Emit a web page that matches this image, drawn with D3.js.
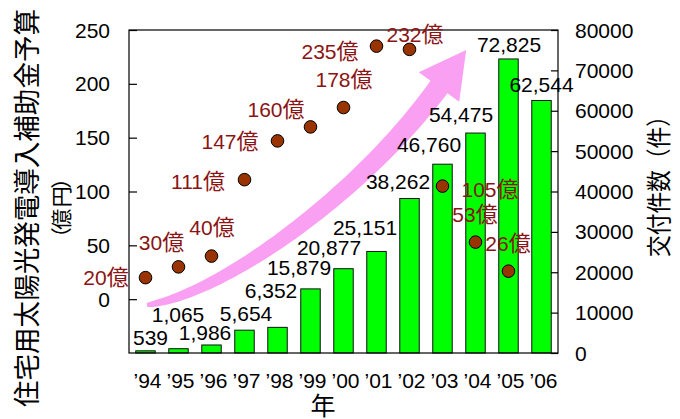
<!DOCTYPE html>
<html>
<head>
<meta charset="utf-8">
<script src="https://cdn.jsdelivr.net/npm/d3@7"></script>
<style>
  body { margin: 0; background: #fff; }
  svg { display: block; }
  text { font-family: "Liberation Sans", "Noto Sans CJK JP", sans-serif; }
  .cjk { font-family: "Noto Sans CJK JP", sans-serif; }
</style>
</head>
<body>
<svg id="chart" width="680" height="419"></svg>
<script>
// Fiscal years (1994–2006)
const years = ["’94", "’95", "’96", "’97", "’98", "’99", "’00", "’01", "’02", "’03", "’04", "’05", "’06"];
// Number of grants issued (件) per year — bars, right axis
const grantCounts = [539, 1065, 1986, 5654, 6352, 15879, 20877, 25151, 38262, 46760, 54475, 72825, 62544];
// Residential PV subsidy budget (億円) per year, '94–'05 — dots, left axis
const budgets = [20, 30, 40, 111, 147, 160, 178, 235, 232, 105, 53, 26];
// Axis tick labels
const leftTicks = [0, 50, 100, 150, 200, 250];
const rightTicks = [0, 10000, 20000, 30000, 40000, 50000, 60000, 70000, 80000];

// Hand-placed nudges [dx, dy] (px) for the value labels, so they avoid each other
const countLabelNudge = [[5, -13], [-0.5, -34], [-6.5, -12], [1.5, -17], [-6.5, -37], [-11.5, -21], [-14.5, -21],
  [-11.5, -24], [-11.5, -17], [-13.5, -20], [-14.5, -19], [0.5, -14], [0, -16]];
const budgetLabelNudge = [[-39.5, 0], [-17, -24], [0.5, -29], [-46.5, 2], [-47.5, 1], [-34.5, -17], [0.5, -28],
  [-46.5, 5], [5.5, -15], [47.5, 3], [-0.5, -28], [-0.5, -28]];

const svg = d3.select("#chart");
const plot = { left: 129, right: 558, top: 30, bottom: 353 };

const x = d3.scaleBand().domain(years).range([plot.left, plot.right])
  .paddingInner(0.41).paddingOuter(0.205);
const yLeft = d3.scaleLinear().domain([-50, 250]).range([plot.bottom, plot.top]);
const yRight = d3.scaleLinear().domain([0, 80000]).range([plot.bottom, plot.top]);
const cx = d => x(d) + x.bandwidth() / 2;

// Growth arrow (decorative): tapered shaft along a cubic curve plus a triangular head
(function drawArrow() {
  const P0 = [147, 305], P1 = [220, 295], P2 = [360, 195], P3 = [439, 87];
  const bez = (t, i) => {
    const m = 1 - t;
    return m * m * m * P0[i] + 3 * m * m * t * P1[i] + 3 * m * t * t * P2[i] + t * t * t * P3[i];
  };
  const der = (t, i) => {
    const m = 1 - t;
    return 3 * m * m * (P1[i] - P0[i]) + 6 * m * t * (P2[i] - P1[i]) + 3 * t * t * (P3[i] - P2[i]);
  };
  const upper = [], lower = [];
  const N = 48;
  for (let k = 0; k <= N; k++) {
    const t = k / N;
    const px = bez(t, 0), py = bez(t, 1);
    let tx = der(t, 0), ty = der(t, 1);
    const len = Math.hypot(tx, ty); tx /= len; ty /= len;
    const nx = -ty, ny = tx;
    const w = (4 + 17 * Math.pow(t, 0.6)) / 2;
    upper.push([px - nx * w, py - ny * w]);
    lower.push([px + nx * w, py + ny * w]);
  }
  let ux = P3[0] - P2[0], uy = P3[1] - P2[1];
  const ul = Math.hypot(ux, uy); ux /= ul; uy /= ul;
  const nx = -uy, ny = ux;
  const head = [
    [P3[0] - nx * 25, P3[1] - ny * 25],
    [P3[0] + ux * 46, P3[1] + uy * 46],
    [P3[0] + nx * 25, P3[1] + ny * 25]
  ];
  const pts = upper.concat(head, lower.reverse());
  svg.append("path")
    .attr("d", "M" + pts.map(p => p[0].toFixed(1) + "," + p[1].toFixed(1)).join("L") + "Z")
    .attr("fill", "#f9a0f2");
})();

// Bars: grant counts
svg.append("g").selectAll("rect").data(grantCounts).join("rect")
  .attr("x", (d, i) => x(years[i]))
  .attr("y", d => yRight(d))
  .attr("width", x.bandwidth())
  .attr("height", d => yRight(0) - yRight(d))
  .attr("fill", "#00ff00")
  .attr("stroke", "#111")
  .attr("stroke-width", 1);

// Frame
svg.append("rect")
  .attr("x", plot.left).attr("y", plot.top)
  .attr("width", plot.right - plot.left).attr("height", plot.bottom - plot.top)
  .attr("fill", "none").attr("stroke", "#000").attr("stroke-width", 1.2);

// Left axis (ticks point inward)
const leftAxis = d3.axisRight(yLeft).tickValues(leftTicks).tickSize(8).tickFormat("");
svg.append("g").attr("transform", `translate(${plot.left},0)`).call(leftAxis)
  .call(g => g.select(".domain").remove())
  .call(g => g.selectAll("line").attr("stroke", "#000").attr("stroke-width", 1.2));
svg.append("g").selectAll("text").data(leftTicks).join("text")
  .attr("x", 110).attr("y", d => yLeft(d) + 7.5)
  .attr("text-anchor", "end").attr("font-size", 21).attr("fill", "#000")
  .text(d => d);

// Right axis (ticks point inward)
const rightAxis = d3.axisLeft(yRight).tickValues(rightTicks).tickSize(7).tickFormat("");
svg.append("g").attr("transform", `translate(${plot.right},0)`).call(rightAxis)
  .call(g => g.select(".domain").remove())
  .call(g => g.selectAll("line").attr("stroke", "#000").attr("stroke-width", 1.2));
svg.append("g").selectAll("text").data(rightTicks).join("text")
  .attr("x", 575).attr("y", d => yRight(d) + 7.5)
  .attr("text-anchor", "start").attr("font-size", 21).attr("fill", "#000")
  .text(d => d);

// Year labels
svg.append("g").selectAll("text").data(years).join("text")
  .attr("x", d => cx(d) + 2).attr("y", 388)
  .attr("text-anchor", "middle").attr("font-size", 21).attr("fill", "#000")
  .text(d => d);

// Count value labels
const fmt = d3.format(",");
svg.append("g").selectAll("text").data(grantCounts).join("text")
  .attr("x", (d, i) => cx(years[i]) + countLabelNudge[i][0])
  .attr("y", (d, i) => yRight(d) + countLabelNudge[i][1] + 7.5)
  .attr("text-anchor", "middle").attr("font-size", 21).attr("fill", "#000")
  .text(d => fmt(d));

// Budget dots
svg.append("g").selectAll("circle").data(budgets).join("circle")
  .attr("cx", (d, i) => cx(years[i]))
  .attr("cy", d => yLeft(d))
  .attr("r", 6.3)
  .attr("fill", "#993300")
  .attr("stroke", "#000").attr("stroke-width", 1);

// Budget labels: number + 億 (the kanji set a little larger)
const budgetText = svg.append("g").selectAll("text").data(budgets).join("text")
  .attr("x", (d, i) => cx(years[i]) + budgetLabelNudge[i][0])
  .attr("y", (d, i) => yLeft(d) + budgetLabelNudge[i][1] + 7.5)
  .attr("text-anchor", "middle").attr("font-size", 21).attr("fill", "#8b1414");
budgetText.append("tspan").text(d => d);
budgetText.append("tspan").attr("class", "cjk").attr("font-size", 22).text("億");

// Axis titles
svg.append("text").attr("class", "cjk")
  .attr("transform", "translate(25,208) rotate(-90)")
  .attr("text-anchor", "middle").attr("dominant-baseline", "central")
  .attr("font-size", 27).attr("fill", "#000")
  .attr("textLength", 398).attr("lengthAdjust", "spacingAndGlyphs")
  .text("住宅用太陽光発電導入補助金予算");
// unit line: set at 25px, then scaled down as a group
const unitChars = Array.from("（億円）");
const unitAdv = [17, 27, 27, 17];
const unitG = svg.append("g").attr("transform", "translate(60,208) rotate(-90) scale(0.84)");
let acc = -d3.sum(unitAdv) / 2;
unitChars.forEach((ch, i) => {
  unitG.append("text").attr("class", "cjk")
    .attr("x", acc + unitAdv[i] / 2).attr("y", 0)
    .attr("text-anchor", "middle").attr("dominant-baseline", "central")
    .attr("font-size", 25).attr("fill", "#000")
    .text(ch);
  acc += unitAdv[i];
});
svg.append("text").attr("class", "cjk")
  .attr("transform", "translate(657,181) rotate(-90)")
  .attr("text-anchor", "middle").attr("dominant-baseline", "central")
  .attr("font-size", 25).attr("fill", "#000")
  .attr("textLength", 152).attr("lengthAdjust", "spacingAndGlyphs")
  .text("交付件数（件）");
svg.append("text").attr("class", "cjk")
  .attr("x", 323).attr("y", 404)
  .attr("text-anchor", "middle").attr("dominant-baseline", "central")
  .attr("font-size", 25).attr("fill", "#000")
  .text("年");
</script>
</body>
</html>
